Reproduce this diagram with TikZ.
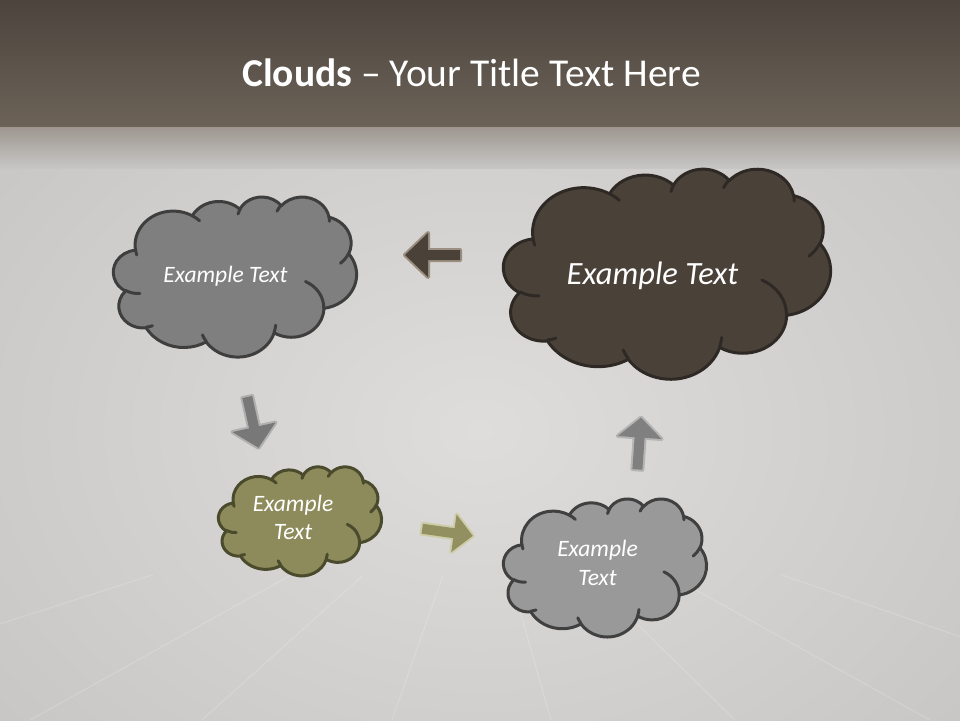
\documentclass[tikz,border=0pt]{standalone}
\usepackage{fontspec}
\setmainfont{Carlito}
\definecolor{bandtop}{RGB}{76,68,61}
\definecolor{bandbot}{RGB}{108,98,88}
\definecolor{shadetop}{RGB}{158,151,144}
\definecolor{wall}{RGB}{199,198,196}
\definecolor{walllight}{RGB}{222,221,219}
\definecolor{cAfill}{RGB}{127,127,127}
\definecolor{cAline}{RGB}{62,62,62}
\definecolor{cBfill}{RGB}{74,65,57}
\definecolor{cBline}{RGB}{46,41,36}
\definecolor{cCfill}{RGB}{141,139,92}
\definecolor{cCline}{RGB}{74,74,44}
\definecolor{cDfill}{RGB}{153,153,153}
\definecolor{cDline}{RGB}{64,64,64}
\definecolor{aAfill}{RGB}{74,65,57}
\definecolor{aAhalo}{RGB}{150,136,122}
\definecolor{aBfill}{RGB}{120,120,120}
\definecolor{aBhalo}{RGB}{172,172,172}
\definecolor{aCfill}{RGB}{146,144,96}
\definecolor{aChalo}{RGB}{205,204,165}
\definecolor{aDfill}{RGB}{128,128,128}
\definecolor{aDhalo}{RGB}{178,178,178}

% arc of an ellipse, angles given as visual angles (DrawingML style)
\newcommand\ooarc[4]{%
  \pgfmathsetmacro\ooA{#1}%
  \pgfmathsetmacro\ooB{#2}%
  \pgfmathsetmacro\ooT{atan2(#1*sin(#3),#2*cos(#3))}%
  \pgfmathsetmacro\ooE{atan2(#1*sin(#3+#4),#2*cos(#3+#4))}%
  \pgfmathsetmacro\ooD{mod(\ooE-\ooT+720,360)}%
  \global\let\ooA\ooA\global\let\ooB\ooB
  \global\let\ooT\ooT\global\let\ooD\ooD}
\def\oa#1#2#3#4{\pgfextra{\ooarc{#1}{#2}{#3}{#4}} arc[start angle=\ooT, delta angle=\ooD, x radius=\ooA, y radius=\ooB]}

\def\cloudoutline{(39,143.7)
 \oa{67.53}{91.90}{-190.48748}{123.78053}
 \oa{53.33}{72.67}{-144.10238}{89.94523}
 \oa{43.65}{59.45}{-145.80792}{99.72302}
 \oa{48.57}{65.95}{-130.98607}{117.24173}
 \oa{53.33}{72.73}{-78.70888}{109.02692}
 \oa{67.75}{92.20}{-46.26725}{130.269}
 \oa{57.85}{78.67}{0.62502}{114.03333}
 \oa{67.52}{92.15}{22.4516}{115.17255}
 \oa{77.20}{105.43}{66.24263}{75.71102}
 \oa{43.60}{59.18}{-274.94208}{146.73557}
 \oa{43.45}{59.45}{-246.8285}{152.51885} -- cycle}
\def\cloudinner{(46.93,261.77) \oa{43.45}{59.45}{86.742}{26.4295}
 (69.28,348.99) \oa{43.60}{59.18}{73.61047}{11.44747}
 (164.78,390.90) \oa{67.52}{92.15}{137.62415}{14.0811}
 (288.27,347.51) \oa{67.52}{92.15}{6.45327}{15.99835}
 (341.29,229.54) \oa{57.85}{78.67}{-70.29235}{70.91737}
 (417.98,153.54) \oa{53.33}{72.73}{30.31803}{27.7515}
 (383.24,54.26) \oa{48.57}{65.95}{-13.74433}{14.8589}
 (290.78,39.52) \oa{48.57}{65.95}{-149.18145}{18.19537}
 (221.41,47.20) \oa{43.65}{59.45}{-163.49427}{17.68635}
 (140.00,51.92) \oa{67.53}{91.90}{-66.70695}{12.31935}
 (41.27,157.89) \oa{67.53}{91.90}{157.65435}{11.85817}}

\newcommand\cloudshape[6]{% x y w h fill line
  \pgfmathsetmacro\csx{#3/432}\pgfmathsetmacro\csy{#4/432}%
  \begin{scope}[shift={(#1,#2)}, x=\csx pt, y=-\csy pt]
    \filldraw[fill=#5, draw=#6, line width=3pt, line join=round] \cloudoutline;
    \draw[draw=#6, line width=3pt, line cap=round] \cloudinner;
  \end{scope}}

\newcommand\blockarrow[9]{% cx cy angle L s h hl fill halo
  \begin{scope}[shift={(#1,#2)}, rotate=#3]
    \def\arrowpath{({-#4/2},{#5/2}) -- ({#4/2-#7},{#5/2}) -- ({#4/2-#7},{#6/2}) -- ({#4/2},0) -- ({#4/2-#7},{-#6/2}) -- ({#4/2-#7},{-#5/2}) -- ({-#4/2},{-#5/2}) -- cycle}
    \draw[draw=#9, line width=4pt, line join=round, opacity=0.9] \arrowpath;
    \fill[#8] \arrowpath;
  \end{scope}}

\tikzset{
  smalltext/.style={text=white, font=\fontsize{23.5}{28.5}\selectfont\itshape, align=center, inner sep=0pt},
  bigtext/.style={text=white, font=\fontsize{32.5}{38}\selectfont\itshape, inner sep=0pt},
  titletext/.style={text=white, font=\fontsize{39.5}{46}\selectfont, inner sep=0pt},
  plank/.style={white, opacity=0.16, line width=1.2pt}
}

\begin{document}
\begin{tikzpicture}[x=1pt,y=-1pt]
\useasboundingbox (0,0) rectangle (960,720);
\clip (0,0) rectangle (960,720);
% background
\fill[wall] (0,0) rectangle (960,720);
\shade[inner color=walllight, outer color=wall] (480,430) ellipse [x radius=640, y radius=480];
\shade[top color=bandtop, bottom color=bandbot] (0,0) rectangle (960,127);
\shade[top color=shadetop, bottom color=wall] (0,127) rectangle (960,168);
\begin{scope}
  \clip (0,575) rectangle (960,720);
  \foreach \xb in {-700,-300,30,202,392,551,735,930,1200,1650}
    \draw[plank] (480,470) -- (\xb,720);
\end{scope}

% title
\node[titletext, anchor=base] (title) at (471.5,86.7) {\textbf{Clouds} – Your Title Text Here};

% clouds
\cloudshape{113.5}{196.5}{243}{160}{cAfill}{cAline}
\cloudshape{503.5}{168.5}{327}{210}{cBfill}{cBline}
\cloudshape{218.5}{466.5}{163}{109}{cCfill}{cCline}
\cloudshape{503.5}{498.5}{203}{138}{cDfill}{cDline}

\node[smalltext, anchor=base] (tA) at (225.5,282) {Example Text};
\node[bigtext, anchor=base] (tB) at (652.5,284) {Example Text};
\node[smalltext] (tC) at (293,517.5) {Example\\Text};
\node[smalltext] (tD) at (597.5,563) {Example\\Text};

% arrows
\blockarrow{432.5}{255}{180}{55}{10}{44}{23}{aAfill}{aAhalo}
\blockarrow{252.9}{422.4}{-77.5}{52}{10}{44}{21}{aBfill}{aBhalo}
\blockarrow{447.5}{532.3}{-8}{51}{10}{38}{19}{aCfill}{aChalo}
\blockarrow{639.2}{443.5}{86}{52}{10}{44}{20}{aDfill}{aDhalo}
\end{tikzpicture}
\end{document}
